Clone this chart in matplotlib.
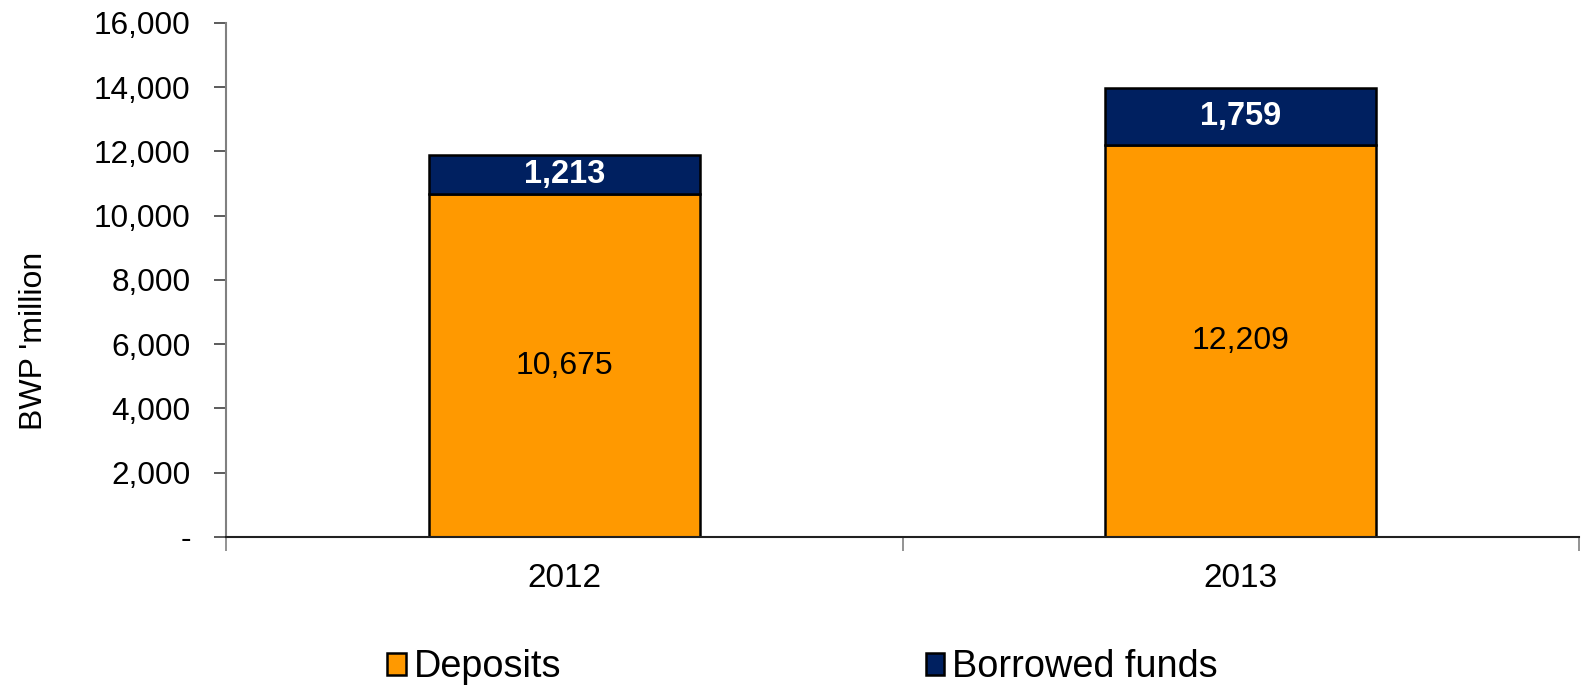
import matplotlib.pyplot as plt
from matplotlib.ticker import FuncFormatter, FixedLocator

plt.rcParams['font.family'] = ['Liberation Sans', 'DejaVu Sans']

years = ['2012', '2013']
deposits = [10675, 12209]
borrowed = [1213, 1759]

fig = plt.figure(figsize=(15.83, 6.88), dpi=100)
ax = fig.add_axes([0.1428, 0.2195, 0.8547, 0.7471])

x = range(len(years))
b1 = ax.bar(x, deposits, width=0.4, color='#FF9900', edgecolor='black',
            linewidth=1.8, label='Deposits')
b2 = ax.bar(x, borrowed, width=0.4, bottom=deposits, color='#002060',
            edgecolor='black', linewidth=1.8, label='Borrowed funds')

for i in x:
    ax.text(i, deposits[i] / 2, f'{deposits[i]:,}', ha='center', va='center',
            fontsize=23, color='black')
    ax.text(i, deposits[i] + borrowed[i] / 2, f'{borrowed[i]:,}', ha='center',
            va='center', fontsize=23.5, color='white', fontweight='bold')

ax.set_xlim(-0.5, 1.5)
ax.set_ylim(0, 16000)
ax.set_yticks(range(0, 16001, 2000))
ax.yaxis.set_major_formatter(FuncFormatter(lambda v, p: '-' if v == 0 else f'{int(v):,}'))

# category labels in the middle, tick marks on the boundaries
ax.xaxis.set_major_locator(FixedLocator([-0.5, 0.5, 1.5]))
ax.xaxis.set_minor_locator(FixedLocator(list(x)))
ax.set_xticklabels([], minor=False)
ax.set_xticklabels(years, minor=True)
ax.tick_params(axis='x', which='major', length=10, width=1.2, color='#808080')
ax.tick_params(axis='x', which='minor', length=0, pad=19, labelsize=24)
ax.tick_params(axis='y', length=9, width=1.2, color='#404040', labelsize=22.7, pad=16.5)

ax.spines['top'].set_visible(False)
ax.spines['right'].set_visible(False)
ax.spines['left'].set_color('#808080')
ax.spines['left'].set_linewidth(1.5)
ax.spines['bottom'].set_color('#202020')
ax.spines['bottom'].set_linewidth(1.5)

ax.set_ylabel("BWP 'million", fontsize=23)
ax.yaxis.set_label_coords(-0.131, 0.381)

fig.legend(handles=[b1, b2], loc='center', bbox_to_anchor=(0.507, 0.03),
           ncol=2, frameon=False, fontsize=27.3, handlelength=0.5,
           handleheight=0.55, handletextpad=0.2, columnspacing=9.6)

fig.savefig('out.png', dpi=100)
